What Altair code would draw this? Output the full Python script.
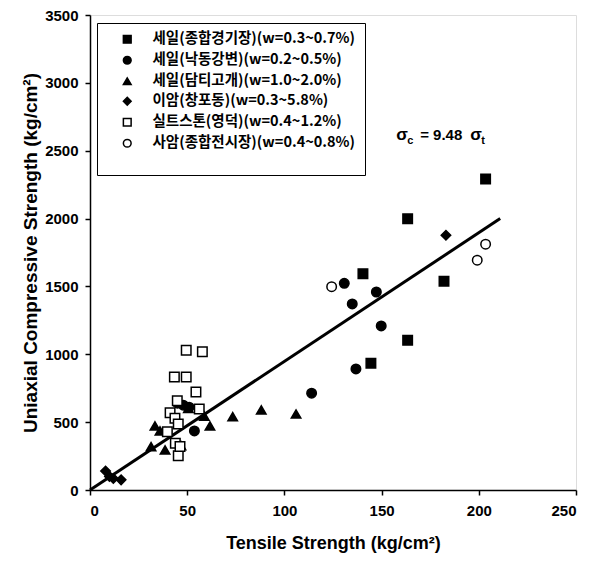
import altair as alt
import pandas as pd

series_names = [
    "세일(종합경기장)(w=0.3~0.7%)",
    "세일(낙동강변)(w=0.2~0.5%)",
    "세일(담티고개)(w=1.0~2.0%)",
    "이암(창포동)(w=0.3~5.8%)",
    "실트스톤(영덕)(w=0.4~1.2%)",
    "사암(종합전시장)(w=0.4~0.8%)",
]
shapes = ["square", "circle", "triangle-up", "diamond", "square", "circle"]
fills = ["black", "black", "black", "black", "white", "white"]
strokes = ["black"] * 6

s1_x = [203.5, 163.4, 140.4, 182.1, 163.4, 144.5]
s1_y = [2292, 1999, 1594, 1538, 1103, 934]

s2_x = [130.8, 147.3, 134.9, 149.8, 136.8, 114.0, 53.7, 45, 48, 51]
s2_y = [1523, 1459, 1371, 1209, 892, 713, 435, 640, 625, 610]

s3_x = [106.0, 88.1, 73.4, 61.7, 58.8, 33.4, 36, 31.4, 38.6, 46.8, 50.6]
s3_y = [560, 590, 540, 472, 545, 472, 435, 319, 295, 327, 602]

s4_x = [183.1, 8, 10, 12, 16]
s4_y = [1877, 140, 100, 85, 75]

s5_x = [49.5, 57.8, 43.4, 49.5, 54.5, 44.9, 56.2, 41.2, 43.7, 45.4, 39.8, 43.9, 45.4, 46.3]
s5_y = [1029, 1019, 833, 833, 722, 658, 597, 570, 528, 486, 430, 344, 253, 320]

s6_x = [203.5, 199.2, 124.3]
s6_y = [1811, 1693, 1498]

fit_x = [0, 211]
fit_y = [0, 2000]

all_x = [s1_x, s2_x, s3_x, s4_x, s5_x, s6_x]
all_y = [s1_y, s2_y, s3_y, s4_y, s5_y, s6_y]
rows = []
for name, xs, ys in zip(series_names, all_x, all_y):
    for a, b in zip(xs, ys):
        rows.append({"series": name, "t": a, "c": b})
df = pd.DataFrame(rows)
fit_df = pd.DataFrame({"t": fit_x, "c": fit_y})

xscale = alt.Scale(domain=[0, 250], nice=False, zero=False)
yscale = alt.Scale(domain=[0, 3500], nice=False, zero=False)

axis_common = dict(
    grid=False,
    domainColor="black",
    domainWidth=1.5,
    tickColor="black",
    tickWidth=1.5,
    tickSize=5,
    format="d",
    labelFont="Liberation Sans",
    labelFontWeight="bold",
    labelFontSize=15,
    labelColor="black",
    titleFont="Liberation Sans",
    titleFontWeight="bold",
    titleColor="black",
)

x_enc = alt.X("t:Q", scale=xscale,
              axis=alt.Axis(values=[0, 50, 100, 150, 200, 250], labelPadding=8,
                            title="Tensile Strength (kg/cm²)", titlePadding=16,
                            titleFontSize=18, **axis_common))
y_enc = alt.Y("c:Q", scale=yscale,
              axis=alt.Axis(values=[0, 500, 1000, 1500, 2000, 2500, 3000, 3500], labelPadding=7,
                            title="Uniaxial Compressive Strength (kg/cm²)", titlePadding=4,
                            titleFontSize=19, **axis_common))

legend = alt.Legend(
    orient="none", legendX=7, legendY=8, title=" ", titleOrient="bottom",
    titleFontSize=12, strokeColor="black", fillColor="white", padding=9,
    labelFont="Noto Sans CJK KR", labelFontWeight="bold", labelFontSize=14.5,
    labelColor="black", labelLimit=400, symbolSize=60, symbolStrokeColor="black",
    symbolStrokeWidth=1.5, rowPadding=5, labelOffset=18, symbolOffset=14, offset=0,
)

points = alt.Chart(df).mark_point(strokeWidth=1.5, opacity=1, size=90).encode(
    x=x_enc,
    y=y_enc,
    shape=alt.Shape("series:N", scale=alt.Scale(domain=series_names, range=shapes), legend=legend),
    fill=alt.Fill("series:N", scale=alt.Scale(domain=series_names, range=fills), legend=legend),
    stroke=alt.Stroke("series:N", scale=alt.Scale(domain=series_names, range=strokes), legend=legend),
)

fit = alt.Chart(fit_df).mark_line(color="black", strokeWidth=3).encode(x="t:Q", y="c:Q")

ann_df = pd.DataFrame({"t": [157.5], "c": [2616]})
txt = dict(font="Liberation Sans", fontWeight="bold", color="black", align="left", baseline="middle")
ann = alt.Chart(ann_df)
a1 = ann.mark_text(text="σ", fontSize=17, dx=0, **txt).encode(x="t:Q", y="c:Q")
a2 = ann.mark_text(text="c", fontSize=11, dx=11, dy=6, **txt).encode(x="t:Q", y="c:Q")
a3 = ann.mark_text(text="= 9.48", fontSize=15, dx=24, **txt).encode(x="t:Q", y="c:Q")
a4 = ann.mark_text(text="σ", fontSize=17, dx=74, **txt).encode(x="t:Q", y="c:Q")
a5 = ann.mark_text(text="t", fontSize=11, dx=85, dy=6, **txt).encode(x="t:Q", y="c:Q")

chart = alt.layer(fit, points, a1, a2, a3, a4, a5).properties(
    width=486, height=475,
    autosize=alt.AutoSizeParams(type="none"),
    padding={"left": 90, "top": 15, "right": 15, "bottom": 72},
).configure_view(stroke="black", strokeWidth=2).configure(background="white")

chart.save("out.html", embed_options={"renderer": "svg", "actions": False})
